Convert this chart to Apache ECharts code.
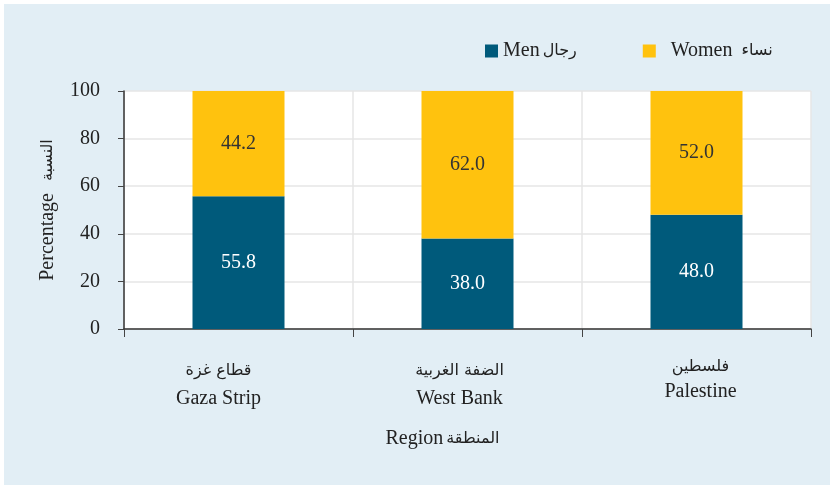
<!DOCTYPE html>
<html>
<head>
<meta charset="utf-8">
<script src="https://cdn.jsdelivr.net/npm/echarts@6/dist/echarts.min.js"></script>
<style>
  html, body { margin: 0; padding: 0; background: #fff; }
  #chart { width: 832px; height: 489px; }
</style>
</head>
<body>
<div id="chart"></div>
<script>
var regionsEn = ['Gaza Strip', 'West Bank', 'Palestine'];
var regionsAr = ['قطاع غزة', 'الضفة الغربية', 'فلسطين'];
var menValues = [55.8, 38.0, 48.0];
var womenValues = [44.2, 62.0, 52.0];
var yTicks = [0, 20, 40, 60, 80, 100];

var serif = "'Liberation Serif', 'Times New Roman', serif";
var arFont = "'DejaVu Sans', sans-serif";
var chart = echarts.init(document.getElementById('chart'));

// label styles per category, the original labels are not centred under the bars
var catKeys = ['g', 'w', 'p'];
var catRich = {
  gar: { fontFamily: arFont, fontSize: 16, lineHeight: 36, color: '#222', padding: [0, 40, 0, 0] },
  gen: { fontFamily: serif, fontSize: 20, lineHeight: 20, color: '#222', padding: [0, 40, 0, 0] },
  war: { fontFamily: arFont, fontSize: 16, lineHeight: 36, color: '#222', padding: [0, 16, 0, 0] },
  wen: { fontFamily: serif, fontSize: 20, lineHeight: 20, color: '#222', padding: [0, 16, 0, 0] },
  par: { fontFamily: arFont, fontSize: 16, lineHeight: 28, color: '#222', padding: [0, 0, 0, 8] },
  pen: { fontFamily: serif, fontSize: 20, lineHeight: 22, color: '#222', padding: [0, 0, 0, 8] }
};

var nameRich = {
  en: { fontFamily: serif, fontSize: 20, color: '#222' },
  ar: { fontFamily: arFont, fontSize: 16, color: '#222' }
};

var legendNames = ['Men', 'Women'];
var legendAr = { Men: 'رجال', Women: 'نساء' };

var option = {
  backgroundColor: '#fff',
  textStyle: { fontFamily: serif },
  graphic: [{
    type: 'rect',
    z: -10,
    shape: { x: 4, y: 4, width: 826, height: 481 },
    style: { fill: '#e2eef5' }
  }],
  legend: {
    left: 480,
    top: 36,
    itemWidth: 13,
    itemHeight: 13,
    itemGap: 66,
    icon: 'rect',
    data: legendNames,
    formatter: function (name) {
      if (name === 'Women') return '{en|  Women}   {ar|' + legendAr[name] + '}';
      return '{en|' + name + '} {ar|' + legendAr[name] + '}';
    },
    textStyle: { rich: nameRich }
  },
  grid: {
    left: 124,
    right: 21,
    top: 91,
    bottom: 160,
    show: true,
    backgroundColor: '#fff',
    borderWidth: 0
  },
  xAxis: {
    type: 'category',
    data: regionsEn,
    name: '{en|Region} {ar|المنطقة}',
    nameLocation: 'middle',
    nameGap: 100,
    nameTextStyle: { rich: nameRich, padding: [0, 50, 0, 0] },
    axisLine: { lineStyle: { color: '#333', width: 1.5 } },
    axisTick: { show: true, length: 8, interval: 0, lineStyle: { color: '#444' } },
    splitLine: { show: true, interval: 0, lineStyle: { color: '#e6e6e6', width: 1.5 } },
    axisLabel: {
      margin: 24,
      interval: 0,
      color: '#222',
      formatter: function (value, idx) {
        var k = catKeys[idx];
        return '{' + k + 'ar|' + regionsAr[idx] + '}\n{' + k + 'en|' + value + '}';
      },
      rich: catRich
    }
  },
  yAxis: {
    type: 'value',
    min: yTicks[0],
    max: yTicks[yTicks.length - 1],
    interval: 20,
    name: '{en|Percentage}    {ar|النسبة}',
    nameLocation: 'middle',
    nameGap: 66,
    nameTextStyle: { rich: nameRich },
    axisLine: { show: true, lineStyle: { color: '#333', width: 1.5 } },
    axisTick: { show: true, length: 6, lineStyle: { color: '#444' } },
    splitLine: { show: true, lineStyle: { color: '#e6e6e6', width: 1.5 } },
    axisLabel: { margin: 24, fontFamily: serif, fontSize: 20, color: '#222' }
  },
  series: [
    {
      name: 'Men',
      type: 'bar',
      stack: 'total',
      barWidth: 92,
      data: menValues,
      itemStyle: { color: '#005a7b' },
      label: {
        show: true,
        position: 'inside',
        formatter: function (p) { return p.value.toFixed(1); },
        fontFamily: serif,
        fontSize: 20,
        color: '#fff'
      }
    },
    {
      name: 'Women',
      type: 'bar',
      stack: 'total',
      barWidth: 92,
      data: womenValues,
      itemStyle: { color: '#ffc20e' },
      label: {
        show: true,
        position: 'inside',
        formatter: function (p) { return p.value.toFixed(1); },
        fontFamily: serif,
        fontSize: 20,
        color: '#333'
      }
    }
  ]
};

chart.setOption(option);
</script>
</body>
</html>
